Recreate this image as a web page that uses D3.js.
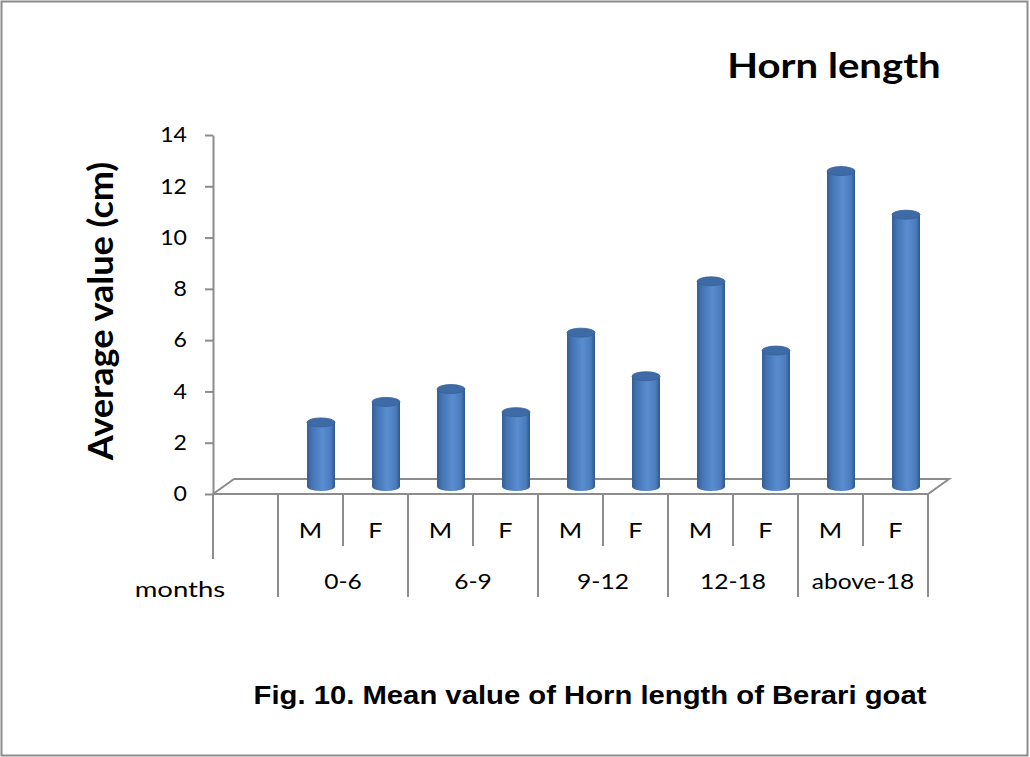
<!DOCTYPE html>
<html lang="en">
<head>
<meta charset="UTF-8">
<title>Horn length</title>
<script src="https://cdn.jsdelivr.net/npm/d3@7"></script>
<style>
  body { margin: 0; background: #fff; }
  svg text { font-family: Lato, "Open Sans", sans-serif; fill: #000; }
</style>
</head>
<body>
<script>
    // chart data
    var groups = ["0-6", "6-9", "9-12", "12-18", "above-18"];
    var sexes = ["M", "F"];
    var values = [2.5, 3.3, 3.8, 2.9, 6.0, 4.3, 8.0, 5.3, 12.3, 10.6];
    var yTicks = [0, 2, 4, 6, 8, 10, 12, 14];

    var width = 1030, height = 757;
    var depthX = 21, depthY = -15;

    // one blank slot before the bars, then M/F per group
    var slots = ["blank"];
    groups.forEach(function (g) {
        sexes.forEach(function (s) { slots.push(g + "|" + s); });
    });
    var bars = values.map(function (v, i) {
        return {key: slots[i + 1], group: groups[Math.floor(i / 2)], sex: sexes[i % 2], value: v};
    });

    // widen text a bit, the original font runs wider than Lato
    function stretch(sel, k) {
        sel.each(function () {
            var len = this.getComputedTextLength();
            d3.select(this)
                .attr("textLength", len * k)
                .attr("lengthAdjust", "spacingAndGlyphs");
        });
    }

    var svg = d3.select("body").append("svg")
        .attr("width", width)
        .attr("height", height);

    svg.append("rect")
        .attr("x", 1.5).attr("y", 1.5)
        .attr("width", width - 4).attr("height", height - 3)
        .attr("fill", "#fff")
        .attr("stroke", "#8c8c8c")
        .attr("stroke-width", 2);

    var x = d3.scaleBand()
        .domain(slots)
        .range([213, 928])
        .padding(0);

    var y = d3.scaleLinear()
        .domain([0, 14])
        .range([494, 135]);

    var defs = svg.append("defs");
    var grad = defs.append("linearGradient")
        .attr("id", "cyl")
        .attr("x1", "0%").attr("x2", "100%")
        .attr("y1", "0%").attr("y2", "0%");
    grad.append("stop").attr("offset", "0%").attr("stop-color", "#345f96");
    grad.append("stop").attr("offset", "18%").attr("stop-color", "#4374b4");
    grad.append("stop").attr("offset", "55%").attr("stop-color", "#5a8dd0");
    grad.append("stop").attr("offset", "85%").attr("stop-color", "#4a7cbd");
    grad.append("stop").attr("offset", "100%").attr("stop-color", "#2f5788");

    var gridColor = "#8c8c8c";

    // floor
    var x0 = x.range()[0], x1 = x.range()[1], yb = y(0);
    var floor = svg.append("g")
        .attr("stroke", gridColor)
        .attr("stroke-width", 2)
        .attr("fill", "none");
    floor.append("path")
        .attr("d", "M" + x0 + "," + yb + "L" + (x0 + depthX) + "," + (yb + depthY) +
            "L" + (x1 + depthX) + "," + (yb + depthY) + "L" + x1 + "," + yb + "Z");

    // y axis
    var yAxis = svg.append("g")
        .attr("transform", "translate(" + x0 + ",0)")
        .call(d3.axisLeft(y).tickValues(yTicks).tickSize(8).tickPadding(18).tickSizeOuter(0));
    yAxis.select(".domain").attr("stroke", gridColor).attr("stroke-width", 2);
    yAxis.selectAll(".tick line").attr("stroke", gridColor).attr("stroke-width", 2);
    yAxis.selectAll(".tick text")
        .style("font-family", "Lato, sans-serif")
        .style("font-size", "21px")
        .attr("fill", "#000")
        .call(stretch, 1.1);

    // cylinders
    var rx = 14, ry = 4.5;
    var barG = svg.append("g");
    bars.forEach(function (d) {
        var cx = x(d.key) + x.bandwidth() / 2 + depthX / 2;
        var yBot = y(0) + depthY / 2;
        var yTop = y(d.value) + depthY / 2;
        barG.append("path")
            .attr("d", "M" + (cx - rx) + "," + yTop +
                "L" + (cx - rx) + "," + yBot +
                "A" + rx + "," + ry + " 0 0 0 " + (cx + rx) + "," + yBot +
                "L" + (cx + rx) + "," + yTop + "Z")
            .attr("fill", "url(#cyl)");
        barG.append("ellipse")
            .attr("cx", cx).attr("cy", yTop)
            .attr("rx", rx).attr("ry", ry)
            .attr("fill", "#3e6ba6")
            .attr("stroke", "#36609a")
            .attr("stroke-width", 0.8);
    });

    // category dividers below the floor
    var div = svg.append("g")
        .attr("stroke", gridColor)
        .attr("stroke-width", 2);
    slots.concat(["end"]).forEach(function (s, i) {
        var xx = s === "end" ? x1 : x(s);
        var bottom;
        if (i === 0) bottom = 559;
        else if (i % 2 === 1) bottom = 597;
        else bottom = 546;
        div.append("line")
            .attr("x1", xx).attr("x2", xx)
            .attr("y1", yb).attr("y2", bottom);
    });

    // M / F labels
    svg.append("g").selectAll("text")
        .data(bars)
        .enter()
        .append("text")
        .attr("x", function (d) { return x(d.key) + x.bandwidth() / 2; })
        .attr("y", 538)
        .attr("text-anchor", "middle")
        .style("font-size", "21px")
        .text(function (d) { return d.sex; })
        .call(stretch, 1.2);

    // group labels
    svg.append("g").selectAll("text")
        .data(groups)
        .enter()
        .append("text")
        .attr("x", function (g) { return x(g + "|M") + x.bandwidth(); })
        .attr("y", 589)
        .attr("text-anchor", "middle")
        .style("font-size", "21px")
        .text(function (g) { return g; })
        .call(stretch, 1.17);

    svg.append("text")
        .attr("x", 180)
        .attr("y", 597)
        .attr("text-anchor", "middle")
        .style("font-size", "22px")
        .text("months")
        .call(stretch, 1.25);

    // titles
    svg.append("text")
        .attr("x", 834)
        .attr("y", 78)
        .attr("text-anchor", "middle")
        .style("font-size", "34px")
        .style("font-weight", "bold")
        .text("Horn length")
        .call(stretch, 1.18);

    svg.append("text")
        .attr("transform", "translate(113,311) rotate(-90)")
        .attr("text-anchor", "middle")
        .style("font-size", "35px")
        .style("font-weight", "bold")
        .text("Average value (cm)")
        .call(stretch, 1.03);

    svg.append("text")
        .attr("x", 590)
        .attr("y", 704)
        .attr("text-anchor", "middle")
        .style("font-family", "'Liberation Sans', Arial, sans-serif")
        .style("font-size", "25px")
        .style("font-weight", "bold")
        .text("Fig. 10. Mean value of Horn length of Berari goat")
        .call(stretch, 1.17);
</script>
</body>
</html>
